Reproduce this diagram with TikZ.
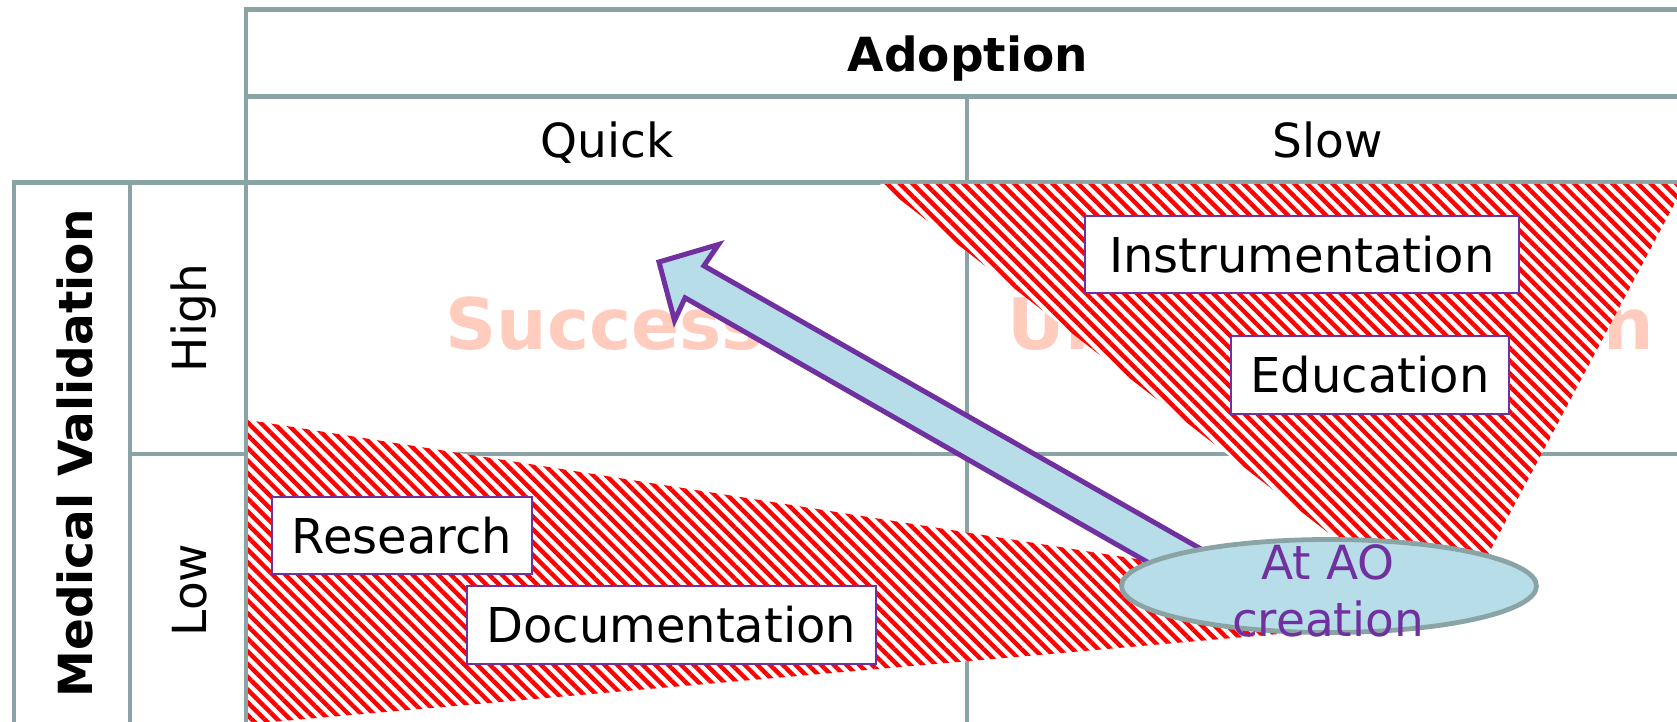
\documentclass[tikz,border=0pt]{standalone}
\usepackage{fontspec}
\setmainfont{DejaVu Sans}
\usetikzlibrary{patterns.meta,shapes.geometric}

\definecolor{gridline}{RGB}{138,164,166}
\definecolor{aopurple}{RGB}{112,48,160}
\definecolor{aoblue}{RGB}{183,222,232}
\definecolor{ghost}{RGB}{255,204,190}

\tikzset{
  gridrule/.style={draw=gridline, line width=2.3pt},
  headtext/.style={font=\fontsize{23.5}{28.4}\selectfont, inner sep=0pt, text=black},
  headbold/.style={font=\fontsize{23.5}{28.4}\selectfont\bfseries, inner sep=0pt, text=black},
  ghosttext/.style={font=\fontsize{35.5}{42}\selectfont\bfseries, inner sep=0pt, text=ghost},
  hatched/.style={preaction={fill=white},
    pattern={Lines[angle=-45,distance=4.5pt,line width=2.2pt]}, pattern color=red},
  tagbox/.style={draw=aopurple, line width=1pt, fill=white, inner sep=0pt,
    font=\fontsize{24}{29}\selectfont, text=black},
  blockarrow/.style={draw=aopurple, line width=2.5pt, fill=aoblue, line join=miter},
  aobubble/.style={ellipse, draw=gridline, line width=2.4pt, fill=aoblue, inner sep=0pt},
  aotext/.style={font=\fontsize{23.5}{28.4}\selectfont, text=aopurple, align=center, inner sep=0pt}
}

\begin{document}
\begin{tikzpicture}[x=0.5pt,y=-0.5pt]
\useasboundingbox (0,0) rectangle (1677,722);
\fill[white] (0,0) rectangle (1677,722);

% table rules
\draw[gridrule] (246,722) -- (246,9.5) -- (1677,9.5);
\draw[gridrule] (246,96.5) -- (1677,96.5);
\draw[gridrule] (967,96.5) -- (967,722);
\draw[gridrule] (14,722) -- (14,182.5) -- (1677,182.5);
\draw[gridrule] (130,182.5) -- (130,722);
\draw[gridrule] (130,454) -- (1677,454);

% headers
\node[headbold, anchor=base] (adoption) at (968,72) {Adoption};
\node[headtext, anchor=base] (quick) at (607,158) {Quick};
\node[headtext, anchor=base] (slow) at (1328,158) {Slow};
\node[headbold, anchor=base, rotate=90] (medval) at (92,453.5) {Medical Validation};
\node[headtext, anchor=base, rotate=90] (high) at (206.5,318) {High};
\node[headtext, anchor=base, rotate=90] (low) at (206.5,590) {Low};

% quadrant captions
\node[ghosttext, anchor=base west] (success) at (445,349) {Success};
\node[ghosttext, anchor=base west] (underuse) at (1007,349) {Underutilization};

% hatched zones
\path[hatched] (880,184) -- (1685,184) -- (1456,615) -- (1434,615) -- cycle;
\path[hatched] (248,420) -- (1290,583) -- (1290,633) -- (248,724) -- cycle;

% activity boxes
\node[tagbox, minimum width=217pt, minimum height=38.5pt] (instr) at (1302,254.5) {Instrumentation};
\node[tagbox, minimum width=139pt, minimum height=39pt] (edu) at (1370,375) {Education};
\node[tagbox, minimum width=130pt, minimum height=38.8pt] (research) at (402,535.5) {Research};
\node[tagbox, minimum width=204.7pt, minimum height=39pt] (doc) at (671.3,624.7) {Documentation};

% block arrow from the bubble towards the success quadrant
\coordinate (goal) at (659,262);
\draw[blockarrow] (goal) -- (718.5,244.5) -- (703.9,265.8) -- (1223.6,561.9)
  -- (1204.8,594.9) -- (685.1,297.8) -- (674.5,320.5) -- cycle;

% starting point
\node[aobubble, minimum width=207.5pt, minimum height=46.5pt] (ao) at (1329,586) {};
\node[aotext] (aolabel) at (1328,591) {At AO\\creation};
\end{tikzpicture}
\end{document}
